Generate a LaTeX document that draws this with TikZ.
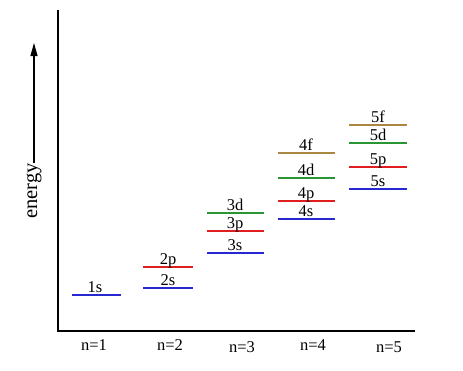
\documentclass[tikz,border=0pt]{standalone}
\usepackage{fontspec}
\setmainfont{Liberation Serif}
\usetikzlibrary{arrows.meta}

\definecolor{sblue}{RGB}{40,40,210}
\definecolor{pred}{RGB}{225,30,30}
\definecolor{dgreen}{RGB}{40,150,50}
\definecolor{fbrown}{RGB}{170,135,65}

\tikzset{
  level/.style={line width=1.8pt},
  orb/.style={anchor=base, inner sep=0pt, font=\fontsize{16.5}{16.5}\selectfont},
  shell/.style={anchor=base, inner sep=0pt, font=\fontsize{16.5}{16.5}\selectfont}
}

\begin{document}
\begin{tikzpicture}[x=1pt, y=-1pt]
    \useasboundingbox (0, 0) rectangle (463, 370);
    % axes
    \draw [line width=2.6pt]  (58, 10) -- (58, 331) -- (415, 331);
    % energy
    \node [rotate=90, inner sep=0pt, font=\fontsize{20.5}{20.5}\selectfont] (energy) at (34, 191) {energy};
    \coordinate (top) at (34, 43);
    \draw [line width=1.1pt, -{Triangle[length=13pt, width=7pt]}] (energy.east) -- (top);
    % n=1
    \draw [level, sblue]   (72, 295) -- (121, 295);
    \node [orb] (s1) at (95, 292) {1s};
    \node [shell] (n1) at (94, 350) {n=1};
    % n=2
    \draw [level, sblue]   (143, 288) -- (193, 288);
    \node [orb] (s2) at (168, 285) {2s};
    \draw [level, pred]    (143, 267) -- (193, 267);
    \node [orb] (p2) at (168, 264) {2p};
    \node [shell] (n2) at (170, 350) {n=2};
    % n=3
    \draw [level, sblue]   (207, 253) -- (264, 253);
    \node [orb] (s3) at (235, 250) {3s};
    \draw [level, pred]    (207, 231) -- (264, 231);
    \node [orb] (p3) at (235, 228) {3p};
    \draw [level, dgreen]  (207, 213) -- (264, 213);
    \node [orb] (d3) at (235, 210) {3d};
    \node [shell] (n3) at (242, 352) {n=3};
    % n=4
    \draw [level, sblue]   (278, 219) -- (335, 219);
    \node [orb] (s4) at (306, 216) {4s};
    \draw [level, pred]    (278, 201) -- (335, 201);
    \node [orb] (p4) at (306, 198) {4p};
    \draw [level, dgreen]  (278, 178) -- (335, 178);
    \node [orb] (d4) at (306, 175) {4d};
    \draw [level, fbrown]  (278, 153) -- (335, 153);
    \node [orb] (f4) at (306, 150) {4f};
    \node [shell] (n4) at (313, 350) {n=4};
    % n=5
    \draw [level, sblue]   (349, 189) -- (407, 189);
    \node [orb] (s5) at (378, 186) {5s};
    \draw [level, pred]    (349, 167) -- (407, 167);
    \node [orb] (p5) at (378, 164) {5p};
    \draw [level, dgreen]  (349, 143) -- (407, 143);
    \node [orb] (d5) at (378, 140) {5d};
    \draw [level, fbrown]  (349, 125) -- (407, 125);
    \node [orb] (f5) at (378, 122) {5f};
    \node [shell] (n5) at (389, 352) {n=5};
\end{tikzpicture}
\end{document}
